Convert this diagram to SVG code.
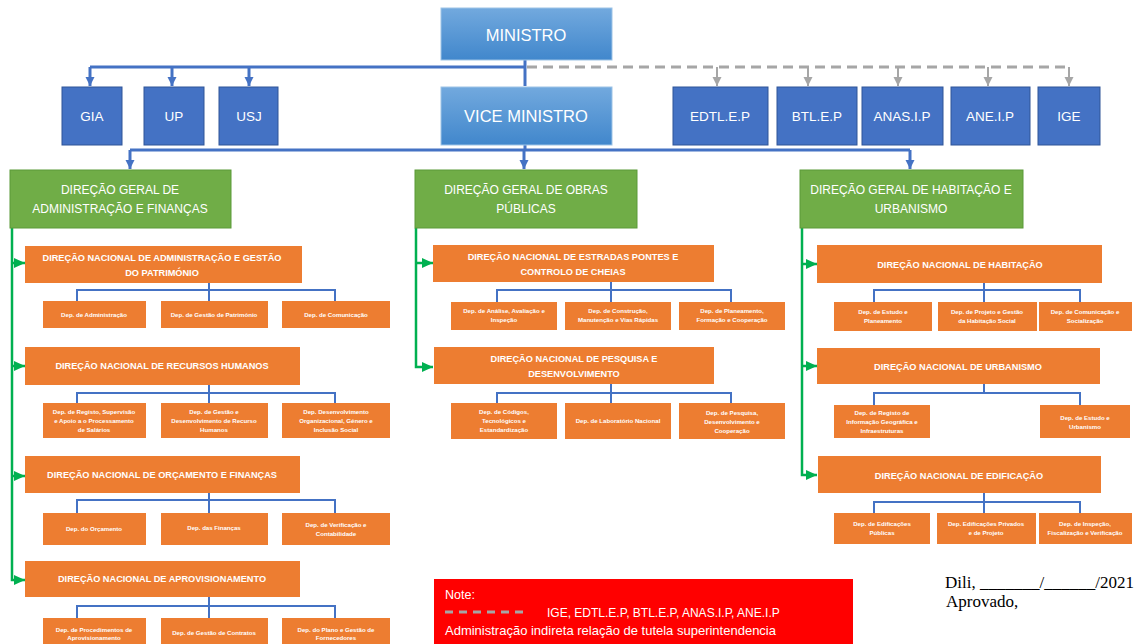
<svg xmlns="http://www.w3.org/2000/svg" width="1138" height="644" viewBox="0 0 1138 644">
<style>
.bg{fill:#ffffff}
.top{fill:url(#gb);stroke:#9dc3e6;stroke-width:1}
.sb{fill:#4472c4;stroke:#2f5597;stroke-width:1}
.gr{fill:#70ad47;stroke:#5b9a38;stroke-width:1}
.dn{fill:#ed7d31}
.dp{fill:#ed7d31}
.t{font-family:"Liberation Sans",Arial,sans-serif;fill:#ffffff;text-anchor:middle}
.tt{font-size:16.5px}
.ts{font-size:13.5px}
.tg{font-size:12px}
.tn{font-size:9.2px;font-weight:bold}
.td{font-size:6.1px;font-weight:bold}
.bl{stroke:#4472c4;stroke-width:3;fill:none}
.bk{stroke:#4472c4;stroke-width:2;fill:none}
.gd{stroke:#a6a6a6;stroke-width:3;fill:none;stroke-dasharray:10 6}
.gs{stroke:#a6a6a6;stroke-width:2;fill:none}
.gn{stroke:#00b050;stroke-width:2.5;fill:none}
.note{font-family:"Liberation Sans",Arial,sans-serif;fill:#ffffff}
.sig{font-family:"Liberation Serif","Times New Roman",serif;fill:#000000;font-size:17px}
</style>
<defs>
<linearGradient id="gb" x1="0" y1="0" x2="0" y2="1">
<stop offset="0" stop-color="#72a9de"/>
<stop offset="1" stop-color="#4187cc"/>
</linearGradient>
<marker id="ab" markerUnits="userSpaceOnUse" markerWidth="10" markerHeight="10" refX="9" refY="5" orient="auto"><path d="M0,0.5 L9,5 L0,9.5 z" fill="#4472c4"/></marker>
<marker id="ag" markerUnits="userSpaceOnUse" markerWidth="10" markerHeight="10" refX="9" refY="5" orient="auto"><path d="M0,0.5 L9,5 L0,9.5 z" fill="#a6a6a6"/></marker>
<marker id="an" markerUnits="userSpaceOnUse" markerWidth="12" markerHeight="12" refX="11" refY="6" orient="auto"><path d="M0,1 L11,6 L0,11 z" fill="#00b050"/></marker>
</defs>
<rect class="bg" x="0" y="0" width="1138" height="644"/>

<g id="connectors">
<path class="bl" d="M525,60 V86"/>
<path class="bl" d="M90,67 H525"/>
<path class="bl" d="M90,67 V86" marker-end="url(#ab)"/>
<path class="bl" d="M172,67 V86" marker-end="url(#ab)"/>
<path class="bl" d="M249,67 V86" marker-end="url(#ab)"/>
<path class="gd" d="M527,67 H1069"/>
<path class="gs" d="M717,67 V86" marker-end="url(#ag)"/>
<path class="gs" d="M808,67 V86" marker-end="url(#ag)"/>
<path class="gs" d="M898,67 V86" marker-end="url(#ag)"/>
<path class="gs" d="M988,67 V86" marker-end="url(#ag)"/>
<path class="gs" d="M1069,67 V86" marker-end="url(#ag)"/>
<path class="bl" d="M525,145 V150 M130,150 H910"/>
<path class="bl" d="M130,150 V169" marker-end="url(#ab)"/>
<path class="bl" d="M524,150 V169" marker-end="url(#ab)"/>
<path class="bl" d="M910,150 V169" marker-end="url(#ab)"/>

<path class="gn" d="M12,228 V580 H25" marker-end="url(#an)"/>
<path class="gn" d="M12,263 H25" marker-end="url(#an)"/>
<path class="gn" d="M12,366 H25" marker-end="url(#an)"/>
<path class="gn" d="M12,476 H25" marker-end="url(#an)"/>
<path class="gn" d="M416,228 V367 H433" marker-end="url(#an)"/>
<path class="gn" d="M416,263 H433" marker-end="url(#an)"/>
<path class="gn" d="M802,228 V475 H817" marker-end="url(#an)"/>
<path class="gn" d="M802,264 H817" marker-end="url(#an)"/>
<path class="gn" d="M802,366 H817" marker-end="url(#an)"/>

<path class="bk" d="M209,283 V301 M77,301 V290 H335 V301"/>
<path class="bk" d="M209,385 V403 M77,403 V393 H335 V403"/>
<path class="bk" d="M209,493 V513 M77,513 V500 H335 V513"/>
<path class="bk" d="M209,597 V618 M77,618 V606 H335 V618"/>
<path class="bk" d="M611,282 V302 M497,302 V290 H731 V302"/>
<path class="bk" d="M611,384 V403 M497,403 V393 H731 V403"/>
<path class="bk" d="M984,283 V302 M874,302 V290 H1080 V302"/>
<path class="bk" d="M984,384 V393 M874,405 V393 H1080 V405"/>
<path class="bk" d="M984,493 V513 M874,513 V502 H1080 V513"/>
</g>

<g id="ministro"><rect class="top" x="441" y="8" width="171" height="52"/><text class="t tt" x="526" y="41">MINISTRO</text></g>
<g id="vice"><rect class="top" x="441" y="87" width="171" height="58"/><text class="t tt" x="526" y="122">VICE MINISTRO</text></g>
<g id="gia"><rect class="sb" x="62" y="87" width="60" height="58"/><text class="t ts" x="92" y="121">GIA</text></g>
<g id="up"><rect class="sb" x="144" y="87" width="60" height="58"/><text class="t ts" x="174" y="121">UP</text></g>
<g id="usj"><rect class="sb" x="219" y="87" width="59" height="58"/><text class="t ts" x="249" y="121">USJ</text></g>
<g id="edtl"><rect class="sb" x="673" y="87" width="95" height="58"/><text class="t ts" x="720" y="121">EDTL.E.P</text></g>
<g id="btl"><rect class="sb" x="777" y="87" width="80" height="58"/><text class="t ts" x="817" y="121">BTL.E.P</text></g>
<g id="anas"><rect class="sb" x="862" y="87" width="81" height="58"/><text class="t ts" x="902" y="121">ANAS.I.P</text></g>
<g id="ane"><rect class="sb" x="951" y="87" width="79" height="58"/><text class="t ts" x="990" y="121">ANE.I.P</text></g>
<g id="ige"><rect class="sb" x="1038" y="87" width="62" height="58"/><text class="t ts" x="1069" y="121">IGE</text></g>

<g id="dg-admin"><rect class="gr" x="10" y="170" width="221" height="58"/><text class="t tg" x="120" y="194">DIREÇÃO GERAL DE</text><text class="t tg" x="120" y="213">ADMINISTRAÇÃO E FINANÇAS</text></g>
<g id="dg-obras"><rect class="gr" x="415" y="170" width="222" height="58"/><text class="t tg" x="526" y="194">DIREÇÃO GERAL DE OBRAS</text><text class="t tg" x="526" y="213">PÚBLICAS</text></g>
<g id="dg-hab"><rect class="gr" x="800" y="170" width="223" height="58"/><text class="t tg" x="911" y="194">DIREÇÃO GERAL DE HABITAÇÃO E</text><text class="t tg" x="911" y="213">URBANISMO</text></g>

<g id="dn-admin"><rect class="dn" x="25" y="246" width="277" height="37"/><text class="t tn" x="162" y="261">DIREÇÃO NACIONAL DE ADMINISTRAÇÃO E GESTÃO</text><text class="t tn" x="162" y="276">DO PATRIMÓNIO</text></g>
<g id="d-adm1"><rect class="dp" x="43" y="301" width="103" height="27"/><text class="t td" x="94" y="317">Dep.  de Administração</text></g>
<g id="d-adm2"><rect class="dp" x="161" y="301" width="107" height="27"/><text class="t td" x="214" y="317">Dep. de Gestão de Património</text></g>
<g id="d-adm3"><rect class="dp" x="282" y="301" width="108" height="27"/><text class="t td" x="336" y="317">Dep. de Comunicação</text></g>

<g id="dn-rh"><rect class="dn" x="25" y="347" width="275" height="38"/><text class="t tn" x="162" y="369">DIREÇÃO NACIONAL DE RECURSOS HUMANOS</text></g>
<g id="d-rh1"><rect class="dp" x="43" y="403" width="103" height="35"/><text class="t td" x="94" y="414">Dep. de Registo, Supervisão</text><text class="t td" x="94" y="423">e Apoio a o Processamento</text><text class="t td" x="94" y="432">de Salários</text></g>
<g id="d-rh2"><rect class="dp" x="161" y="403" width="107" height="35"/><text class="t td" x="214" y="414">Dep. de Gestão e</text><text class="t td" x="214" y="423">Desenvolvimento de Recurso</text><text class="t td" x="214" y="432">Humanos</text></g>
<g id="d-rh3"><rect class="dp" x="282" y="403" width="108" height="35"/><text class="t td" x="336" y="414">Dep. Desenvolvimento</text><text class="t td" x="336" y="423">Organizacional,  Género e</text><text class="t td" x="336" y="432">Inclusão Social</text></g>

<g id="dn-orc"><rect class="dn" x="25" y="456" width="275" height="37"/><text class="t tn" x="162" y="478">DIREÇÃO NACIONAL DE ORÇAMENTO E FINANÇAS</text></g>
<g id="d-orc1"><rect class="dp" x="43" y="513" width="103" height="32"/><text class="t td" x="94" y="531">Dep.  do Orçamento</text></g>
<g id="d-orc2"><rect class="dp" x="161" y="513" width="107" height="32"/><text class="t td" x="214" y="530">Dep.  das Finanças</text></g>
<g id="d-orc3"><rect class="dp" x="282" y="513" width="108" height="32"/><text class="t td" x="336" y="527">Dep. de Verificação  e</text><text class="t td" x="336" y="536">Contabilidade</text></g>

<g id="dn-aprov"><rect class="dn" x="25" y="561" width="275" height="36"/><text class="t tn" x="162" y="582">DIREÇÃO NACIONAL DE APROVISIONAMENTO</text></g>
<g id="d-apr1"><rect class="dp" x="43" y="618" width="103" height="30"/><text class="t td" x="94" y="632">Dep. de Procedimentos de</text><text class="t td" x="94" y="640">Aprovisionamento</text></g>
<g id="d-apr2"><rect class="dp" x="161" y="618" width="107" height="30"/><text class="t td" x="214" y="635">Dep. de Gestão de Contratos</text></g>
<g id="d-apr3"><rect class="dp" x="282" y="618" width="108" height="30"/><text class="t td" x="336" y="632">Dep. do Plano e Gestão  de</text><text class="t td" x="336" y="640">Fornecedores</text></g>

<g id="dn-estradas"><rect class="dn" x="433" y="245" width="281" height="37"/><text class="t tn" x="573" y="260">DIREÇÃO NACIONAL DE ESTRADAS PONTES E</text><text class="t tn" x="573" y="275">CONTROLO DE CHEIAS</text></g>
<g id="d-est1"><rect class="dp" x="451" y="302" width="106" height="28"/><text class="t td" x="504" y="313">Dep. de Análise, Avaliação e</text><text class="t td" x="504" y="322">Inspeção</text></g>
<g id="d-est2"><rect class="dp" x="565" y="302" width="106" height="28"/><text class="t td" x="618" y="313">Dep. de Construção,</text><text class="t td" x="618" y="322">Manutenção e Vias Rápidas</text></g>
<g id="d-est3"><rect class="dp" x="679" y="302" width="106" height="28"/><text class="t td" x="732" y="313">Dep. de Planeamento,</text><text class="t td" x="732" y="322">Formação e Cooperação</text></g>

<g id="dn-pesquisa"><rect class="dn" x="434" y="347" width="280" height="37"/><text class="t tn" x="574" y="362">DIREÇÃO NACIONAL DE PESQUISA E</text><text class="t tn" x="574" y="377">DESENVOLVIMENTO</text></g>
<g id="d-pes1"><rect class="dp" x="451" y="403" width="106" height="36"/><text class="t td" x="504" y="414">Dep. de Códigos,</text><text class="t td" x="504" y="423">Tecnológicos e</text><text class="t td" x="504" y="432">Estandardização</text></g>
<g id="d-pes2"><rect class="dp" x="565" y="403" width="106" height="36"/><text class="t td" x="618" y="423">Dep. de Laboratório Nacional</text></g>
<g id="d-pes3"><rect class="dp" x="679" y="403" width="106" height="36"/><text class="t td" x="732" y="415">Dep. de Pesquisa,</text><text class="t td" x="732" y="424">Desenvolvimento e</text><text class="t td" x="732" y="433">Cooperação</text></g>

<g id="dn-habitacao"><rect class="dn" x="817" y="245" width="285" height="38"/><text class="t tn" x="960" y="268">DIREÇÃO NACIONAL DE HABITAÇÃO</text></g>
<g id="d-hab1"><rect class="dp" x="834" y="302" width="98" height="29"/><text class="t td" x="883" y="314">Dep. de Estudo e</text><text class="t td" x="883" y="323">Planeamento</text></g>
<g id="d-hab2"><rect class="dp" x="938" y="302" width="99" height="29"/><text class="t td" x="987" y="314">Dep. de Projeto e Gestão</text><text class="t td" x="987" y="323">da Habitação Social</text></g>
<g id="d-hab3"><rect class="dp" x="1039" y="302" width="93" height="29"/><text class="t td" x="1085" y="314">Dep. de Comunicação e</text><text class="t td" x="1085" y="323">Socialização</text></g>

<g id="dn-urbanismo"><rect class="dn" x="817" y="348" width="283" height="36"/><text class="t tn" x="958" y="370">DIREÇÃO NACIONAL DE URBANISMO</text></g>
<g id="d-urb1"><rect class="dp" x="834" y="405" width="96" height="33"/><text class="t td" x="882" y="415">Dep. de Registo de</text><text class="t td" x="882" y="424">Informação Geográfica e</text><text class="t td" x="882" y="433">Infraestruturas</text></g>
<g id="d-urb2"><rect class="dp" x="1040" y="405" width="90" height="33"/><text class="t td" x="1085" y="420">Dep. de Estudo e</text><text class="t td" x="1085" y="429">Urbanismo</text></g>

<g id="dn-edificacao"><rect class="dn" x="818" y="456" width="283" height="37"/><text class="t tn" x="959" y="479">DIREÇÃO NACIONAL DE EDIFICAÇÃO</text></g>
<g id="d-edi1"><rect class="dp" x="834" y="513" width="96" height="31"/><text class="t td" x="882" y="526">Dep. de Edificações</text><text class="t td" x="882" y="535">Públicas</text></g>
<g id="d-edi2"><rect class="dp" x="937" y="513" width="99" height="31"/><text class="t td" x="986" y="526">Dep. Edificações Privados</text><text class="t td" x="986" y="535">e de Projeto</text></g>
<g id="d-edi3"><rect class="dp" x="1039" y="513" width="93" height="31"/><text class="t td" x="1085" y="526">Dep. de Inspeção,</text><text class="t td" x="1085" y="535">Fiscalização e Verificação</text></g>

<g id="note">
<rect x="434" y="579" width="419" height="65" fill="#ff0000"/>
<text class="note" x="445" y="599" font-size="12.5px">Note:</text>
<path d="M445,612 H528" stroke="#a6a6a6" stroke-width="3" stroke-dasharray="8 6" fill="none"/>
<text class="note" x="547" y="617" font-size="12px">IGE, EDTL.E.P, BTL.E.P, ANAS.I.P, ANE.I.P</text>
<text class="note" x="445" y="635" font-size="13px">Administração indireta relação de tutela superintendencia</text>
</g>
<g id="signature">
<text class="sig" x="945" y="588">Dili, _______/______/2021</text>
<text class="sig" x="946" y="607">Aprovado,</text>
</g>
</svg>
